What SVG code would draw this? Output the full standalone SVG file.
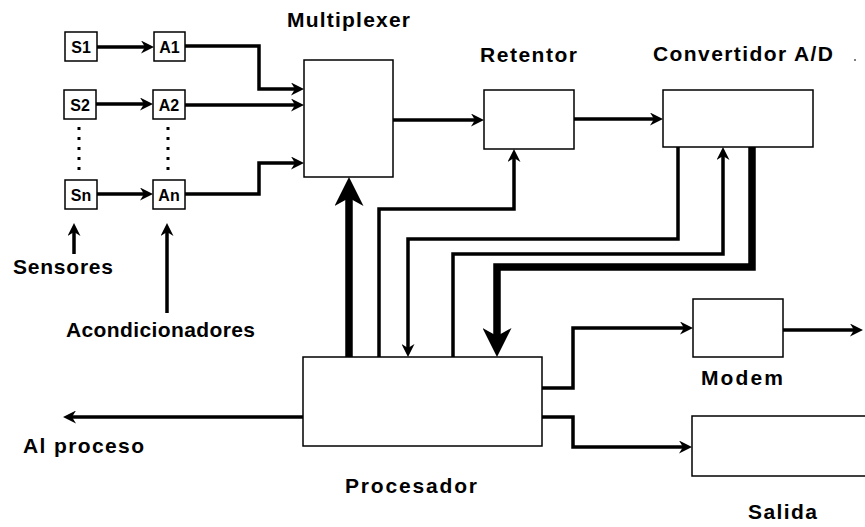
<svg xmlns="http://www.w3.org/2000/svg" width="865" height="527" viewBox="0 0 865 527">
<style>
.box{fill:#fff;stroke:#000;stroke-width:1.5}
.lbl{font-family:"Liberation Sans",Arial,sans-serif;font-weight:bold;font-size:21px;fill:#000}
.sm{font-family:"Liberation Sans",Arial,sans-serif;font-weight:bold;font-size:16px;fill:#000;text-anchor:middle}
.ln{fill:none;stroke:#000;stroke-width:3.5;stroke-linejoin:miter}
.th{fill:none;stroke:#000;stroke-width:7.5;stroke-linejoin:miter}
.dot{fill:none;stroke:#000;stroke-width:3;stroke-dasharray:3 7}
</style>
<defs>
<marker id="a" viewBox="0 0 13 13" refX="4" refY="6.5" markerWidth="13" markerHeight="13" markerUnits="userSpaceOnUse" orient="auto">
<path d="M0,0 L13,6.5 L0,13 L4,6.5 z" fill="#000"/>
</marker>
<marker id="b" viewBox="0 0 29 29" refX="9" refY="14.5" markerWidth="29" markerHeight="29" markerUnits="userSpaceOnUse" orient="auto">
<path d="M0,0 L29,14.5 L0,29 L8,14.5 z" fill="#000"/>
</marker>
</defs>
<rect width="865" height="527" fill="#fff"/>
<g id="connectors">
<path class="ln" d="M97,47 H145" marker-end="url(#a)"/>
<path class="ln" d="M96,104 H144" marker-end="url(#a)"/>
<path class="ln" d="M97,194 H144" marker-end="url(#a)"/>
<path class="ln" d="M185,46 H259 V89 H295" marker-end="url(#a)"/>
<path class="ln" d="M185,105 H295" marker-end="url(#a)"/>
<path class="ln" d="M185,194 H259 V163 H295" marker-end="url(#a)"/>
<path class="dot" d="M79,127 V172"/>
<path class="dot" d="M168,127 V172"/>
<path class="ln" d="M74,254 V232" marker-end="url(#a)"/>
<path class="ln" d="M167,313 V232" marker-end="url(#a)"/>
<path class="ln" d="M393,120 H475" marker-end="url(#a)"/>
<path class="ln" d="M574,119 H654" marker-end="url(#a)"/>
<path class="th" d="M349,357 V197" marker-end="url(#b)"/>
<path class="ln" d="M379,357 V209 H514 V158" marker-end="url(#a)"/>
<path class="ln" d="M678,147 V239 H408 V348" marker-end="url(#a)"/>
<path class="ln" d="M453,357 V254 H723 V156" marker-end="url(#a)"/>
<path class="th" d="M752,147 V267 H497 V337" marker-end="url(#b)"/>
<path class="ln" d="M542,388 H573 V328 H684" marker-end="url(#a)"/>
<path class="ln" d="M783,330 H854" marker-end="url(#a)"/>
<path class="ln" d="M542,417 H573 V447 H683" marker-end="url(#a)"/>
<path class="ln" d="M303,417 H72" marker-end="url(#a)"/>
</g>
<g id="S1"><rect class="box" x="65" y="32" width="32" height="29"/><text class="sm" x="81" y="52.5">S1</text></g>
<g id="S2"><rect class="box" x="64" y="90" width="32" height="29"/><text class="sm" x="80" y="110.5">S2</text></g>
<g id="Sn"><rect class="box" x="65" y="180" width="32" height="29"/><text class="sm" x="81" y="200.5">Sn</text></g>
<g id="A1"><rect class="box" x="154" y="32" width="31" height="29"/><text class="sm" x="169.5" y="52.5">A1</text></g>
<g id="A2"><rect class="box" x="153" y="90" width="32" height="29"/><text class="sm" x="169" y="110.5">A2</text></g>
<g id="An"><rect class="box" x="153" y="180" width="32" height="29"/><text class="sm" x="169" y="200.5">An</text></g>
<g id="multiplexer"><rect class="box" x="304" y="60" width="89" height="117"/><text class="lbl" x="287" y="27" textLength="123" lengthAdjust="spacing">Multiplexer</text></g>
<g id="retentor"><rect class="box" x="484" y="90" width="90" height="59"/><text class="lbl" x="480" y="62" textLength="97" lengthAdjust="spacing">Retentor</text></g>
<g id="convertidor"><rect class="box" x="663" y="90" width="150" height="57"/><text class="lbl" x="653" y="61" textLength="180" lengthAdjust="spacing">Convertidor A/D</text><circle cx="855" cy="60" r="1" fill="#555"/></g>
<g id="procesador"><rect class="box" x="303" y="357" width="239" height="89"/><text class="lbl" x="345" y="493" textLength="132" lengthAdjust="spacing">Procesador</text></g>
<g id="modem"><rect class="box" x="693" y="299" width="90" height="58"/><text class="lbl" x="701" y="385" textLength="82" lengthAdjust="spacing">Modem</text></g>
<g id="salida"><rect class="box" x="692" y="416" width="185" height="60"/><text class="lbl" x="748" y="519" textLength="69" lengthAdjust="spacing">Salida</text></g>
<g id="sensores"><text class="lbl" x="13" y="274" textLength="100" lengthAdjust="spacing">Sensores</text></g>
<g id="acondicionadores"><text class="lbl" x="66" y="337" textLength="189" lengthAdjust="spacing">Acondicionadores</text></g>
<g id="alproceso"><text class="lbl" x="23" y="453" textLength="121" lengthAdjust="spacing">Al proceso</text></g>
</svg>
